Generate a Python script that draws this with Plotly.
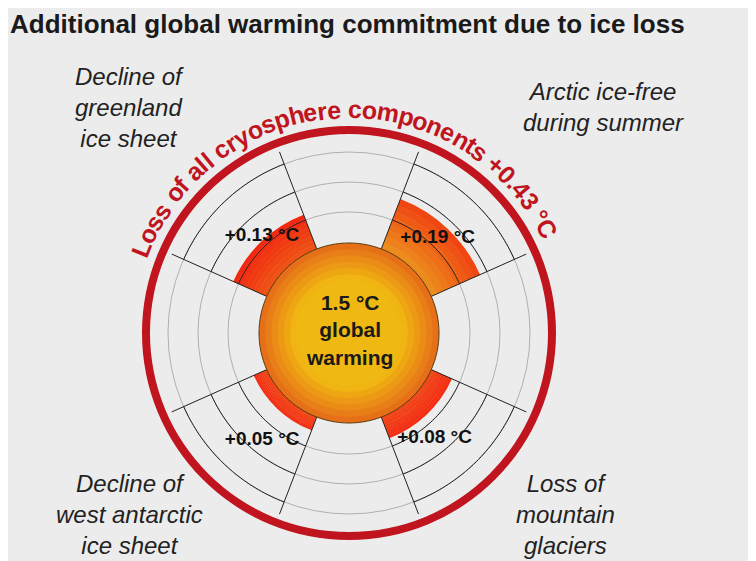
import math
import plotly.graph_objects as go

# data
components = ["Decline of greenland ice sheet", "Arctic ice-free during summer",
              "Decline of west antarctic ice sheet", "Loss of mountain glaciers"]
warming = [0.13, 0.19, 0.05, 0.08]          # °C
sector_theta = [133.5, 46.5, 226.5, 313.5]   # sector centres, degrees
total_warming = 0.43
base_warming = 1.5

inner_cols = [(238, 82, 20), (236, 140, 28), (242, 70, 24), (240, 70, 24)]
outer_cols = [(242, 40, 16), (240, 70, 18), (244, 46, 18), (244, 46, 20)]

W, H = 756, 561
OFF = 8                     # the page adds an 8px body margin
CX, CY = 349 - OFF, 561 - 333 + OFF   # polar centre in figure px from bottom-left
R_MAX = 215
CORE = 90                   # radius of the 1.5 °C disk
SCALE = 280                 # px per °C for the bars
SECTOR_W = 45
SECTOR_OUT = 194
RINGS = [121, 151, 181]


def mix(a, b, t):
    return "rgb(%d,%d,%d)" % tuple(round(a[i] + (b[i] - a[i]) * t) for i in range(3))


def px(x, y_top):
    # reference pixel -> paper coords
    return (x - OFF) / W, 1 - (y_top - OFF) / H


fig = go.Figure()

# contribution bars with radial gradient
N = 8
for th, val, ci, co in zip(sector_theta, warming, inner_cols, outer_cols):
    length = val * SCALE
    for i in range(N):
        fig.add_trace(go.Barpolar(
            r=[length / N + 0.3], base=[CORE + length * i / N], theta=[th], width=[SECTOR_W],
            marker=dict(color=mix(ci, co, i / (N - 1)), line=dict(width=0)),
            hoverinfo="skip", showlegend=False))

# sector outlines: spokes and dark arcs
for th in sector_theta:
    a0, a1 = th - SECTOR_W / 2, th + SECTOR_W / 2
    for a in (a0, a1):
        fig.add_trace(go.Scatterpolar(r=[CORE, SECTOR_OUT], theta=[a, a], mode="lines",
                                      line=dict(color="#222", width=1), hoverinfo="skip", showlegend=False))
    for rr in RINGS:
        ts = [a0 + (a1 - a0) * k / 40 for k in range(41)]
        fig.add_trace(go.Scatterpolar(r=[rr] * 41, theta=ts, mode="lines",
                                      line=dict(color="#222", width=1), hoverinfo="skip", showlegend=False))

# central disk with gradient
core_steps = 14
for i in range(core_steps):
    t = i / (core_steps - 1)
    rr = CORE * (1 - t * 0.9)
    col = mix((230, 112, 24), (240, 184, 18), min(1, t * 2.5))
    fig.add_trace(go.Barpolar(r=[rr], base=[0], theta=[0], width=[360],
                              marker=dict(color=col, line=dict(width=0)),
                              hoverinfo="skip", showlegend=False))
ts = [k * 3 for k in range(121)]
fig.add_trace(go.Scatterpolar(r=[CORE] * 121, theta=ts, mode="lines",
                              line=dict(color="#5a3a10", width=1), hoverinfo="skip", showlegend=False))

# outer ring
fig.add_trace(go.Barpolar(r=[8], base=[199], theta=[0], width=[360],
                          marker=dict(color="#c0141e", line=dict(width=0)),
                          hoverinfo="skip", showlegend=False))

# value labels
fig.add_trace(go.Scatterpolar(
    r=[130, 130, 138, 136], theta=[132, 47, 231, 309], mode="text",
    text=["+%.2f °C" % v for v in warming],
    textfont=dict(family="Liberation Sans", size=19, color="#111", weight="bold"),
    hoverinfo="skip", showlegend=False))

fig.update_layout(
    width=W, height=H,
    margin=dict(l=0, r=0, t=0, b=0),
    paper_bgcolor="#ececec",
    polar=dict(
        domain=dict(x=[(CX - R_MAX) / W, (CX + R_MAX) / W], y=[(CY - R_MAX) / H, (CY + R_MAX) / H]),
        bgcolor="#ececec",
        radialaxis=dict(range=[0, R_MAX], tickvals=RINGS, showticklabels=False,
                        ticks="", gridcolor="#b0b0b0", gridwidth=1, showline=False),
        angularaxis=dict(showgrid=False, showticklabels=False, ticks="", showline=False),
        barmode="overlay",
    ),
)

anns = []
anns.append(dict(x=0, y=1 - 16 / H, xref="paper", yref="paper", xanchor="left", yanchor="middle",
                 text="<b>Additional global warming commitment due to ice loss</b>", showarrow=False,
                 font=dict(family="Liberation Sans", size=26, color="#1a1a1a")))
cx_, cy_ = px(349, 330)
anns.append(dict(x=cx_, y=cy_, xref="paper", yref="paper", showarrow=False,
                 xanchor="center", yanchor="middle",
                 text="<b>%.1f °C<br>global<br>warming</b>" % base_warming,
                 font=dict(family="Liberation Sans", size=21, color="#1a1a1a")))

side_labels = ["Decline of<br>greenland<br>ice sheet", "Arctic ice-free<br>during summer",
               "Decline of<br>west antarctic<br>ice sheet", "Loss of<br>mountain<br>glaciers"]
side_pos = [(129, 107), (603, 107), (129, 514), (565, 514)]
for txt, (sx, sy) in zip(side_labels, side_pos):
    ax_, ay_ = px(sx, sy)
    anns.append(dict(x=ax_, y=ay_, xref="paper", yref="paper", showarrow=False,
                     xanchor="center", yanchor="middle", text="<i>%s</i>" % txt,
                     font=dict(family="Liberation Sans", size=24, color="#222")))

# curved ring label, laid out glyph by glyph
ring_text = "Loss of all cryosphere components +%.2f °C" % total_warming
widths = {" ": 278, "L": 611, "o": 611, "s": 556, "f": 333, "a": 556, "l": 278, "c": 556,
          "r": 389, "y": 556, "p": 611, "h": 611, "e": 556, "m": 889, "n": 611, "t": 333,
          "+": 584, "0": 556, ".": 278, "4": 556, "3": 556, "°": 400, "C": 722}
fs = 25
R_TXT = 224
start = 160
pos = 0.0
for ch in ring_text:
    w = widths.get(ch, 556) / 1000 * fs
    mid = pos + w / 2
    th = start - math.degrees(mid / R_TXT)
    pos += w
    if ch == " ":
        continue
    x = CX + R_TXT * math.cos(math.radians(th))
    y = CY + R_TXT * math.sin(math.radians(th))
    anns.append(dict(x=x / W, y=y / H, xref="paper", yref="paper", showarrow=False,
                     xanchor="center", yanchor="middle", text="<b>%s</b>" % ch,
                     textangle=90 - th,
                     font=dict(family="Liberation Sans", size=fs, color="#c0141e")))

fig.update_layout(annotations=anns)
fig.write_html("out.html")
